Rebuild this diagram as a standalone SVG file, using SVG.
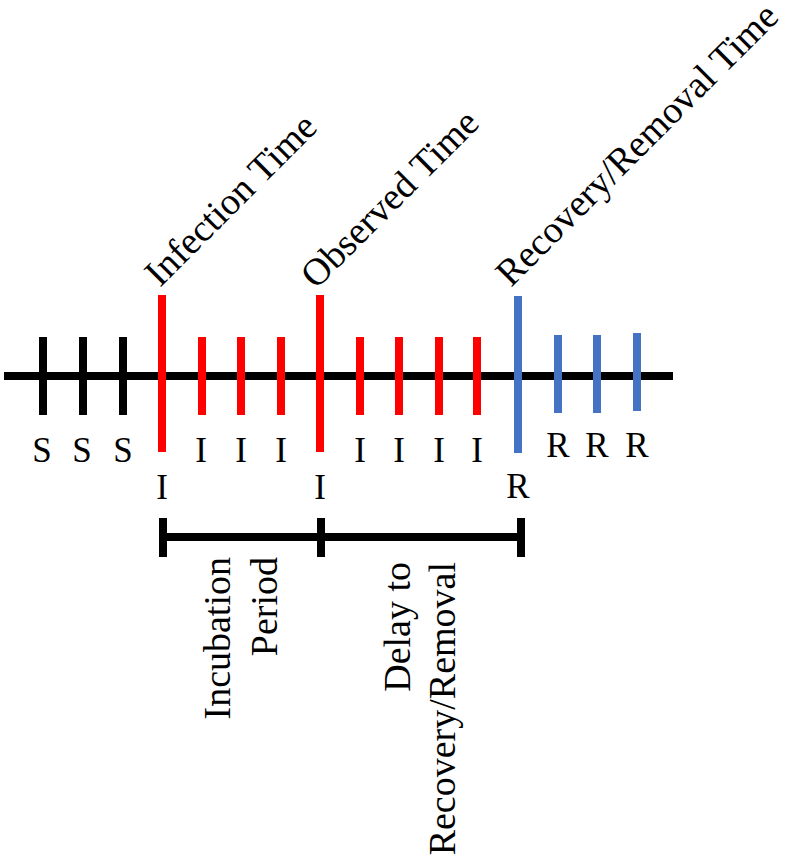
<svg xmlns="http://www.w3.org/2000/svg" width="787" height="865" viewBox="0 0 787 865">
<style>
.t{font-family:"Liberation Serif","Times New Roman",serif;fill:#000}
.big{font-size:38px}
.sm{font-size:35px;text-anchor:middle}
.blk{stroke:#000;stroke-width:8}
.red{stroke:#FF0000;stroke-width:8}
.blu{stroke:#4472C4;stroke-width:8}
</style>
<rect width="787" height="865" fill="#fff"/>
<g id="timeline">
<line class="blk" x1="4" y1="376" x2="673" y2="376"/>
</g>
<g id="susceptible">
<line class="blk" x1="43" y1="337" x2="43" y2="415"/>
<line class="blk" x1="83" y1="337" x2="83" y2="415"/>
<line class="blk" x1="123" y1="337" x2="123" y2="415"/>
<text class="t sm" x="42" y="462">S</text>
<text class="t sm" x="82" y="462">S</text>
<text class="t sm" x="123" y="462">S</text>
</g>
<g id="infection">
<line class="red" x1="162" y1="295" x2="162" y2="452"/>
<text class="t sm" x="162" y="499">I</text>
<text class="t big" transform="translate(160 288) rotate(-45)">Infection Time</text>
</g>
<g id="infected1">
<line class="red" x1="202" y1="337" x2="202" y2="415"/>
<line class="red" x1="241" y1="337" x2="241" y2="415"/>
<line class="red" x1="281" y1="337" x2="281" y2="415"/>
<text class="t sm" x="201" y="462">I</text>
<text class="t sm" x="241" y="462">I</text>
<text class="t sm" x="281" y="462">I</text>
</g>
<g id="observed">
<line class="red" x1="320" y1="295" x2="320" y2="452"/>
<text class="t sm" x="320" y="499">I</text>
<text class="t big" transform="translate(316 290) rotate(-45)">Observed Time</text>
</g>
<g id="infected2">
<line class="red" x1="360" y1="337" x2="360" y2="415"/>
<line class="red" x1="399" y1="337" x2="399" y2="415"/>
<line class="red" x1="439" y1="337" x2="439" y2="415"/>
<line class="red" x1="477" y1="337" x2="477" y2="415"/>
<text class="t sm" x="360" y="462">I</text>
<text class="t sm" x="399" y="462">I</text>
<text class="t sm" x="439" y="462">I</text>
<text class="t sm" x="477" y="462">I</text>
</g>
<g id="recovery">
<line class="blu" x1="518" y1="296" x2="518" y2="453"/>
<text class="t sm" x="518" y="498">R</text>
<text class="t big" transform="translate(511 288) rotate(-45)">Recovery/Removal Time</text>
</g>
<g id="removed">
<line class="blu" x1="558" y1="335" x2="558" y2="413"/>
<line class="blu" x1="597" y1="335" x2="597" y2="413"/>
<line class="blu" x1="637" y1="333" x2="637" y2="411"/>
<text class="t sm" x="558" y="457">R</text>
<text class="t sm" x="597" y="457">R</text>
<text class="t sm" x="637" y="457">R</text>
</g>
<g id="intervals">
<line class="blk" x1="163" y1="537" x2="521" y2="537"/>
<line class="blk" x1="163" y1="518" x2="163" y2="557"/>
<line class="blk" x1="321" y1="518" x2="321" y2="557"/>
<line class="blk" x1="521" y1="518" x2="521" y2="557"/>
</g>
<g id="incubation">
<text class="t big" text-anchor="end" transform="translate(230 557) rotate(-90)">Incubation</text>
<text class="t big" text-anchor="end" transform="translate(277 557) rotate(-90)">Period</text>
</g>
<g id="delay">
<text class="t big" text-anchor="end" transform="translate(410 562) rotate(-90)">Delay to</text>
<text class="t big" text-anchor="end" transform="translate(455 562) rotate(-90)">Recovery/Removal</text>
</g>
</svg>
